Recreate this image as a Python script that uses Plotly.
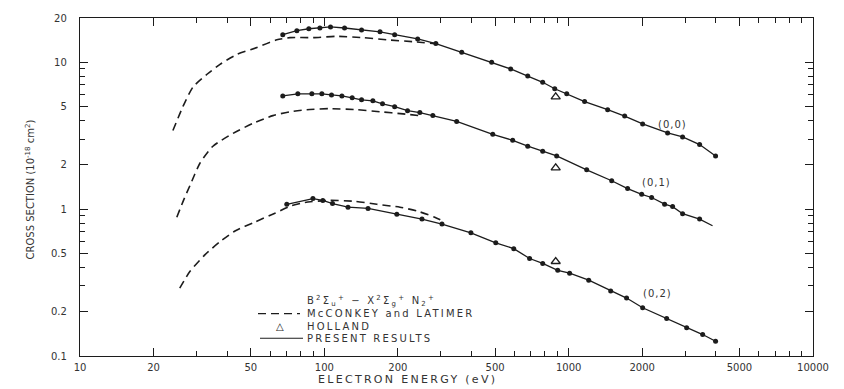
import numpy as np
import plotly.graph_objects as go

# ---------------- data ----------------
# Present results, (0,0) band
e00 = [67.6, 77.2, 86.4, 95.9, 106, 121, 142, 169, 194, 241, 286, 365, 484, 579, 680,
       783, 877, 982, 1162, 1444, 1695, 2008, 2541, 2926, 3435, 3993]
s00 = [15.4, 16.4, 16.9, 17.1, 17.4, 17.1, 16.6, 16.1, 15.4, 14.4, 13.4, 11.7, 10.0, 9.0, 8.05,
       7.3, 6.6, 6.1, 5.4, 4.75, 4.3, 3.8, 3.3, 3.1, 2.75, 2.3]
# Present results, (0,1) band (the last value is the end of the fitted line, no dot)
e01 = [67.6, 77.9, 88.9, 97.7, 107, 118, 130, 142, 158, 173, 194, 219, 246, 278, 348, 489,
       590, 680, 783, 893, 1185, 1500, 1743, 1990, 2185, 2470, 2663, 2926, 3435, 3880]
s01 = [5.90, 6.09, 6.09, 6.09, 5.99, 5.90, 5.72, 5.55, 5.46, 5.21, 4.98, 4.68, 4.54, 4.34, 3.95, 3.23,
       2.94, 2.68, 2.48, 2.30, 1.85, 1.56, 1.38, 1.26, 1.20, 1.08, 1.04, 0.93, 0.855, 0.77]
# Present results, (0,2) band
e02 = [70.2, 89.8, 98.6, 108, 125, 151, 198, 251, 303, 398, 503, 596, 692, 783, 902, 1009,
       1208, 1486, 1726, 2008, 2518, 3040, 3535, 3993]
s02 = [1.078, 1.18, 1.146, 1.09, 1.03, 1.01, 0.924, 0.855, 0.791, 0.689, 0.590, 0.538, 0.461, 0.427,
       0.383, 0.366, 0.328, 0.277, 0.248, 0.213, 0.180, 0.156, 0.140, 0.126]

# McConkey and Latimer (dashed)
m00_e = [24.0, 26.4, 29.0, 33.1, 37.4, 43.9, 53.0, 63.9, 72.3, 89.8, 112, 144, 180, 230, 297]
m00_s = [3.43, 5.0, 6.78, 8.28, 9.67, 11.3, 12.6, 14.2, 14.7, 14.7, 15.0, 14.7, 14.2, 13.8, 13.3]
m01_e = [24.9, 26.6, 28.2, 31.0, 35.0, 42.3, 51.0, 61.6, 72.3, 84.8, 105, 136, 169, 210, 246]
m01_s = [0.881, 1.16, 1.45, 2.06, 2.68, 3.28, 3.83, 4.33, 4.60, 4.75, 4.83, 4.75, 4.60, 4.45, 4.33]
m02_e = [25.6, 28.2, 32.5, 37.4, 43.1, 52.0, 62.8, 72.3, 83.2, 105, 133, 164, 204, 241, 283, 299]
m02_s = [0.290, 0.377, 0.490, 0.600, 0.710, 0.817, 0.938, 1.045, 1.11, 1.146, 1.13, 1.078, 1.03,
         0.968, 0.881, 0.845]

# Holland (open triangles)
hol_e = [885, 885, 885]
hol_s = [5.81, 1.91, 0.44]

# band labels
band_text = ["(0,0)", "(0,1)", "(0,2)"]
band_e = [2660, 2290, 2310]
band_s = [3.77, 1.51, 0.268]

# ticks
x_ticks = [10, 20, 50, 100, 200, 500, 1000, 2000, 5000, 10000]
x_ticklabels = ["10", "20", "50", "100", "200", "500", "1000", "2000", "5000", "10000"]
x_minor = [30, 40, 60, 70, 80, 90, 300, 400, 600, 700, 800, 900,
           3000, 4000, 6000, 7000, 8000, 9000]
y_ticks = [0.1, 0.2, 0.5, 1, 2, 5, 10, 20]
y_ticklabels = ["0.1", "0.2", "0.5", "1", "2", "5", "10", "20"]
y_minor = [0.3, 0.4, 0.6, 0.7, 0.8, 0.9, 3, 4, 6, 7, 8, 9]

# ---------------- figure ----------------
ink = "#1c1c1c"
txt = "#333333"
FONT = "DejaVu Sans"


def spaced(s, sp=2):
    return f'<span style="letter-spacing:{sp}px">{s}</span>'


fig = go.Figure()

for e, s in [(m00_e, m00_s), (m01_e, m01_s), (m02_e, m02_s)]:
    fig.add_trace(go.Scatter(x=e, y=s, mode="lines",
                             line=dict(color=ink, width=1.6, dash="8px,5px",
                                       shape="spline", smoothing=0.6),
                             showlegend=False, hoverinfo="skip"))

# present results: fitted line through the points, then the measured dots
for e, s, ndots in [(e00, s00, len(e00)), (e01, s01, len(e01) - 1), (e02, s02, len(e02))]:
    fig.add_trace(go.Scatter(x=e, y=s, mode="lines",
                             line=dict(color=ink, width=1.3),
                             showlegend=False, hoverinfo="skip"))
    fig.add_trace(go.Scatter(x=e[:ndots], y=s[:ndots], mode="markers",
                             marker=dict(color=ink, size=5),
                             showlegend=False))

fig.add_trace(go.Scatter(x=hol_e, y=hol_s, mode="markers",
                         marker=dict(symbol="triangle-up-open", size=8, color=ink,
                                     line=dict(width=1.3, color=ink)),
                         showlegend=False))

annotations = []
for t, e, s in zip(band_text, band_e, band_s):
    annotations.append(dict(x=np.log10(e), y=np.log10(s), xref="x", yref="y",
                            text=spaced(t, 1), showarrow=False,
                            font=dict(family=FONT, size=10, color=txt)))

# axis titles
annotations.append(dict(x=(407 - 80) / 733, y=(356 - 380) / 343, xref="paper", yref="paper",
                        text=spaced("ELECTRON ENERGY (eV)", 2.3), showarrow=False,
                        xanchor="center", yanchor="middle",
                        font=dict(family=FONT, size=11, color=txt)))
annotations.append(dict(x=(30 - 80) / 733, y=(356 - 187) / 343, xref="paper", yref="paper",
                        text="CROSS SECTION (10<sup>-18</sup> cm<sup>2</sup>)", textangle=-90,
                        showarrow=False, xanchor="center", yanchor="middle",
                        font=dict(family=FONT, size=10, color=txt)))


def px(x):
    return (x - 80) / 733


def py(y):
    return (356 - y) / 343


legend_lines = [
    ("B<sup>2</sup>Σ<sub>u</sub><sup>+</sup> − X<sup>2</sup>Σ<sub>g</sub><sup>+</sup> N<sub>2</sub><sup>+</sup>", 300),
    ("McCONKEY and LATIMER", 313),
    ("HOLLAND", 326),
    ("PRESENT RESULTS", 338),
]
for t, yy in legend_lines:
    annotations.append(dict(x=px(305), y=py(yy), xref="paper", yref="paper",
                            text=spaced(t, 2.2), showarrow=False, xanchor="left", yanchor="middle",
                            font=dict(family=FONT, size=10, color=txt)))
annotations.append(dict(x=px(280), y=py(326), xref="paper", yref="paper", text="△",
                        showarrow=False, xanchor="center", yanchor="middle",
                        font=dict(family=FONT, size=10, color=ink)))

shapes = [
    dict(type="line", xref="paper", yref="paper", x0=px(258), x1=px(300), y0=py(313), y1=py(313),
         line=dict(color=ink, width=1.4, dash="8px,5px")),
    dict(type="line", xref="paper", yref="paper", x0=px(260), x1=px(303), y0=py(338), y1=py(338),
         line=dict(color=ink, width=1.2)),
]

axis_common = dict(type="log", showgrid=False, zeroline=False, showline=True,
                   linecolor=ink, linewidth=1.4, mirror="ticks", ticks="inside",
                   ticklen=8, tickwidth=1.3, tickcolor=ink,
                   tickfont=dict(family=FONT, size=10, color=txt))

fig.update_layout(
    width=844, height=389,
    margin=dict(l=80, r=31, t=13, b=33),
    paper_bgcolor="white", plot_bgcolor="white",
    showlegend=False,
    xaxis=dict(axis_common, range=[1, 4], tickmode="array", tickvals=x_ticks,
               ticktext=x_ticklabels, ticklabelstandoff=2,
               minor=dict(tickmode="array", tickvals=x_minor, ticks="inside", ticklen=5,
                          tickwidth=1.1, tickcolor=ink)),
    yaxis=dict(axis_common, range=[-1, np.log10(20)], tickmode="array", tickvals=y_ticks,
               ticktext=y_ticklabels, ticklabelstandoff=10,
               minor=dict(tickmode="array", tickvals=y_minor, ticks="inside", ticklen=5,
                          tickwidth=1.1, tickcolor=ink)),
    annotations=annotations,
    shapes=shapes,
)

fig.write_html("out.html")
